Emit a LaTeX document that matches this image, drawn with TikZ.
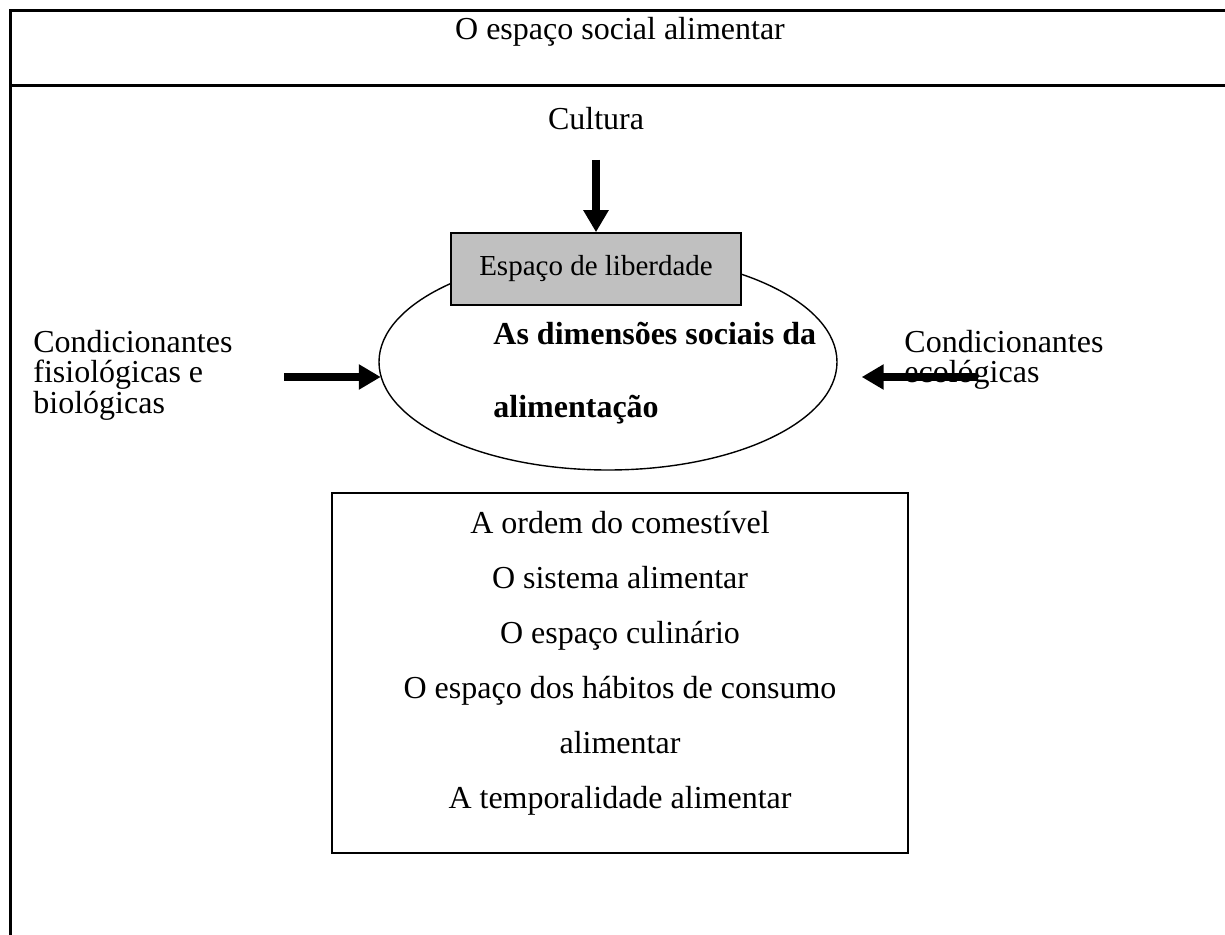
\documentclass[tikz,border=0pt]{standalone}
\usepackage{fontspec}
\setmainfont{Liberation Serif}
\usetikzlibrary{shapes.geometric,arrows.meta}
\definecolor{boxgray}{HTML}{C0C0C0}
\tikzset{
  bigarrow/.style={line width=3.8pt,-{Triangle[length=11pt,width=12pt]}},
  txt/.style={inner sep=0pt,font=\fontsize{16pt}{19pt}\selectfont},
  boldtxt/.style={inner sep=0pt,font=\fontsize{16pt}{19pt}\selectfont\bfseries},
}

\begin{document}
\begin{tikzpicture}[x=0.5pt,y=-0.5pt]
    \useasboundingbox (0,0) rectangle (1225,935);
    % outer frame
    \draw[line width=1.5pt] (10,936) -- (10,11) -- (1226,11);
    \draw[line width=1.5pt] (10,86) -- (1226,86);
    \node[txt,anchor=base] (title) at (620,40) {O espaço social alimentar};

    \node[txt,anchor=base] (cultura) at (596,130) {Cultura};
    \coordinate (ctop) at (596,160);

    \node[draw,ellipse,line width=0.7pt,minimum width=229pt,minimum height=108pt,inner sep=0pt] (dims) at (608,362) {};
    \node[draw,fill=boxgray,line width=0.8pt,minimum width=145pt,minimum height=36pt,inner sep=0pt,
          font=\fontsize{14.5pt}{17pt}\selectfont] (liberdade) at (596,269) {Espaço de liberdade};
    \draw[bigarrow] (ctop) -- (liberdade.north);

    \node[boldtxt,anchor=base west] (dimsA) at (493,344) {As dimensões sociais da};
    \node[boldtxt,anchor=base west] (dimsB) at (493,417) {alimentação};

    % left side
    \node[txt,anchor=base west] (fisioA) at (33,352) {Condicionantes};
    \node[txt,anchor=base west] (fisioB) at (33,383) {fisiológicas e};
    \node[txt,anchor=base west] (fisioC) at (33,413) {biológicas};
    \coordinate (lfoot) at (284,377);
    \draw[bigarrow] (lfoot) -- (lfoot -| dims.184);

    % right side
    \node[txt,anchor=base west] (ecoA) at (904,352) {Condicionantes};
    \node[txt,anchor=base west] (ecoB) at (904,383) {ecológicas};
    \coordinate (rfoot) at (978,377);
    \draw[bigarrow,shorten >=12pt] (rfoot) -- (rfoot -| dims.east);

    % list box
    \draw[line width=0.8pt] (332,493) rectangle (908,853);
    \node[txt,anchor=base] (ordem) at (620,533) {A ordem do comestível};
    \node[txt,anchor=base] (sistema) at (620,588) {O sistema alimentar};
    \node[txt,anchor=base] (culinario) at (620,643) {O espaço culinário};
    \node[txt,anchor=base] (habitos) at (620,698) {O espaço dos hábitos de consumo};
    \node[txt,anchor=base] (habitosB) at (620,753) {alimentar};
    \node[txt,anchor=base] (tempo) at (620,808) {A temporalidade alimentar};
\end{tikzpicture}
\end{document}
